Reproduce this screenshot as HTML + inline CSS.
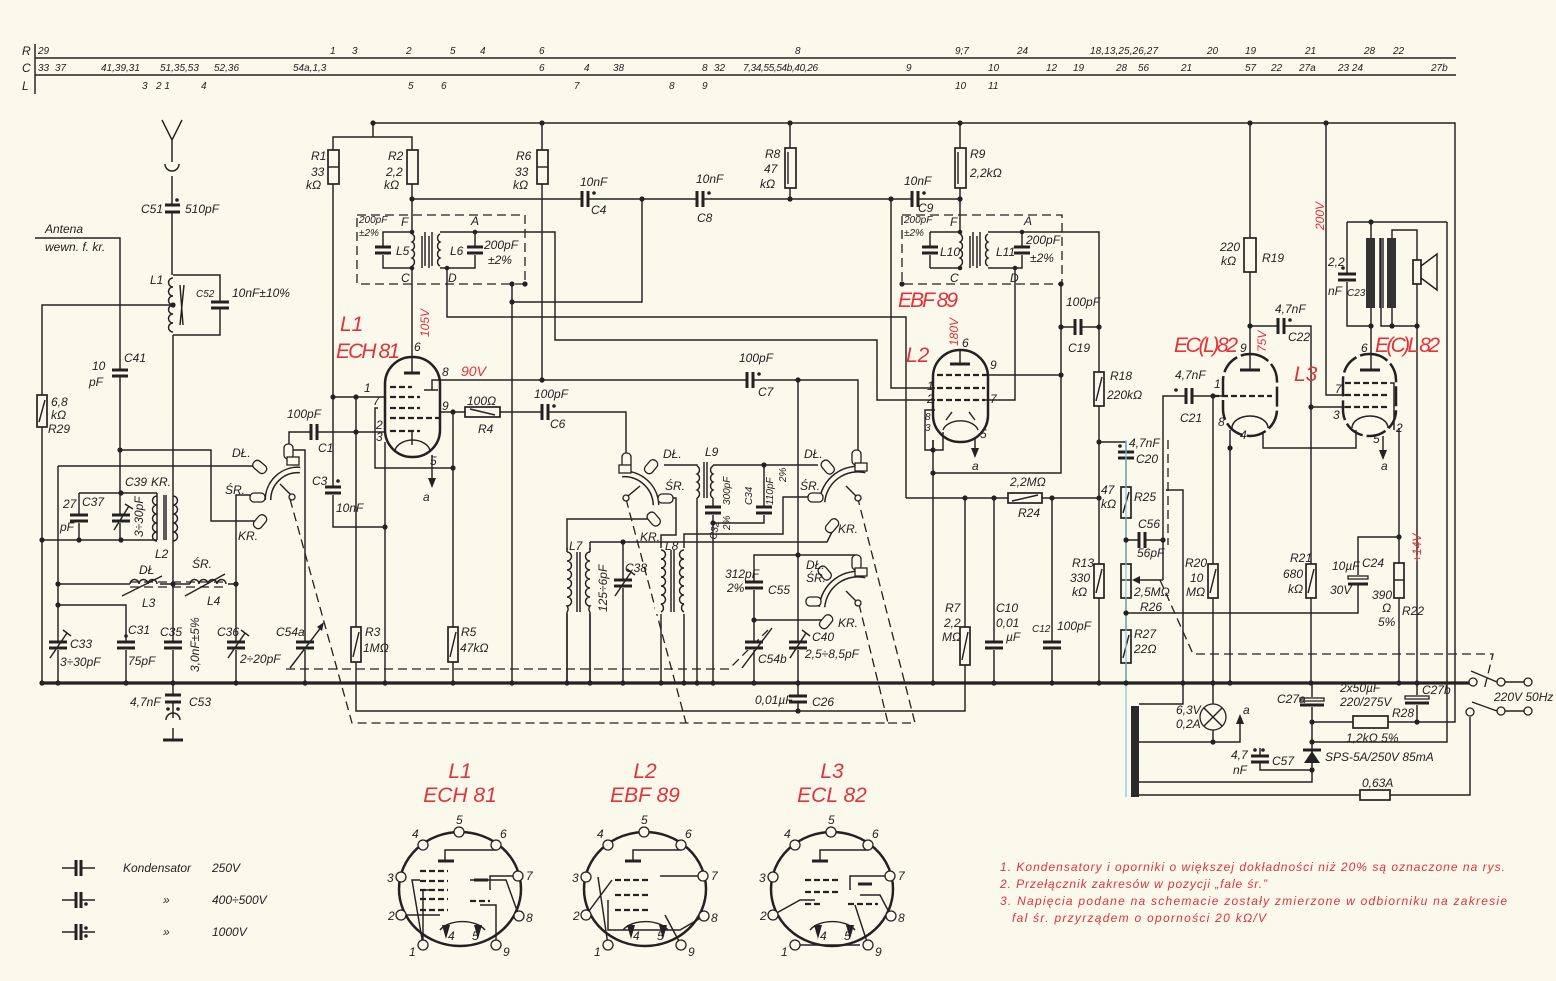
<!DOCTYPE html>
<html><head><meta charset="utf-8">
<style>
html,body{margin:0;padding:0;background:#fbf8ec}
svg{display:block}
</style></head><body>
<svg xmlns="http://www.w3.org/2000/svg" width="1556" height="981" viewBox="0 0 1556 981">
<style>
.w{stroke:#222;stroke-width:1.45;fill:none}
.bus{stroke:#222;stroke-width:3.2;fill:none}
.p{stroke:#222;stroke-width:3;fill:none}
.d{stroke:#222;stroke-width:1.3;fill:none;stroke-dasharray:9 5}
.r{fill:#fbf8ec;stroke:#222;stroke-width:1.7}
.e{fill:none;stroke:#222;stroke-width:2.5}
.g{stroke:#222;stroke-width:2.2;stroke-dasharray:6 3;fill:none}
.bg{fill:#fbf8ec}
.k{fill:#222}
.pin{fill:#fbf8ec;stroke:#222;stroke-width:1.3}
.sw{fill:none;stroke:#222;stroke-width:7}
.swi{fill:none;stroke:#fbf8ec;stroke-width:4}
text{font-family:"Liberation Sans Narrow","Liberation Sans",sans-serif;font-style:italic;font-size:12px;fill:#222}
.t{font-size:10px}
.red{fill:#e3323b;font-size:21px}
.rs{fill:#e3323b;font-size:14px}
.rn{fill:#e3323b;font-size:12px}
</style>
<rect width="1556" height="981" fill="#fbf8ec"/>

<!-- HEADER -->
<text x="22" y="55" font-size="14">R</text>
<text x="22" y="72" font-size="14">C</text>
<text x="22" y="90" font-size="14">L</text>
<path class="w" d="M35,44 V94 M35,58 H1456 M35,75 H1456"/>
<g class="t">
<text x="38" y="54" class="t">29</text><text x="330" y="54" class="t">1</text><text x="352" y="54" class="t">3</text><text x="406" y="54" class="t">2</text><text x="450" y="54" class="t">5</text><text x="480" y="54" class="t">4</text><text x="539" y="54" class="t">6</text><text x="795" y="54" class="t">8</text><text x="955" y="54" class="t">9;7</text><text x="1017" y="54" class="t">24</text><text x="1090" y="54" class="t" textLength="68">18,13,25,26,27</text><text x="1207" y="54" class="t">20</text><text x="1245" y="54" class="t">19</text><text x="1305" y="54" class="t">21</text><text x="1364" y="54" class="t">28</text><text x="1393" y="54" class="t">22</text>
<text x="38" y="71" class="t">33</text><text x="55" y="71" class="t">37</text><text x="101" y="71" class="t">41,39,31</text><text x="160" y="71" class="t">51,35,53</text><text x="214" y="71" class="t">52,36</text><text x="293" y="71" class="t">54a,1,3</text><text x="539" y="71" class="t">6</text><text x="584" y="71" class="t">4</text><text x="613" y="71" class="t">38</text><text x="702" y="71" class="t">8</text><text x="714" y="71" class="t">32</text><text x="743" y="71" class="t" textLength="75">7,34,55,54b,40,26</text><text x="906" y="71" class="t">9</text><text x="988" y="71" class="t">10</text><text x="1046" y="71" class="t">12</text><text x="1073" y="71" class="t">19</text><text x="1116" y="71" class="t">28</text><text x="1138" y="71" class="t">56</text><text x="1181" y="71" class="t">21</text><text x="1245" y="71" class="t">57</text><text x="1271" y="71" class="t">22</text><text x="1299" y="71" class="t">27a</text><text x="1338" y="71" class="t">23 24</text><text x="1431" y="71" class="t">27b</text>
<text x="142" y="89" class="t">3</text><text x="156" y="89" class="t">2 1</text><text x="201" y="89" class="t">4</text><text x="408" y="89" class="t">5</text><text x="441" y="89" class="t">6</text><text x="574" y="89" class="t">7</text><text x="669" y="89" class="t">8</text><text x="702" y="89" class="t">9</text><text x="955" y="89" class="t">10</text><text x="988" y="89" class="t">11</text>
</g>

<!-- BUS -->
<path class="bus" d="M42,683 H1470"/>

<!-- WIRES -->
<path class="w" d="
M162,120 L172,140 L182,120 M172,140 V162
M172,176 V275
M173,275 H220 V335 H173 M173,335 V683
M173,305 H42 V683
M35,238 H120 V540
M121,450 H211 V521 H256
M79,493 H157 M79,493 V540 M42,540 H157
M157,493 V540
M58,466 H256 M58,466 V683 M58,605 H126 V683
M58,584 H130 M160,584 H190 M228,584 H236 V495 H250 M236,584 V683
M173,683 V718 M173,728 V740
M292,450 H305 V683
M289,450 V432 H385
M373,137 V123 H1455 V722 H1388
M333,150 V137 H412 V150
M333,184 V527 H385
M333,397 H385
M356,397 V711 H965 V498
M385,442 V683
M378,408 H375 V468 H453
M412,184 V232 M412,268 V357
M412,199 H960
M542,123 V380
M790,123 V199
M960,123 V232
M412,232 H383 V268 H412
M440,232 H475 V268 H440
M475,232 H555 V340 H877 V400 H935
M447,268 V317 H906 V498
M512,284 V683 M512,302 H642 V199
M440,380 H858 V458
M440,412 H626 V458
M453,412 V683
M798,380 V711
M664,465 H697 V683
M713,465 H818 M713,465 V683
M713,523 H764 V465
M654,519 H567 V683
M590,542 V683 M590,542 H827 L833,530
M623,542 V683
M668,498 H676 V535 H661 V683
M684,683 V534 H783 V497 H812
M798,555 H754 V683 M754,620 H822
M856,565 V555 H798
M906,498 H1099
M994,498 V683 M1052,498 V683
M933,440 V683 M933,473 H1061 V283
M988,375 H1061
M985,400 H1015 V268
M891,199 V388 H935
M930,232 H960 M930,268 H960 M930,232 V268
M988,232 H1022 V268 H988
M1022,232 H1099 V683
M1061,327 H1099
M1099,442 H1126 V683
M1126,540 H1163
M1163,580 V396 H1223
M1166,490 H1183 V704 H1139
M1126,613 H1358 V537 H1399
M1213,396 V704 M1213,730 V742 H1139 M1213,742 H1240 V722
M1230,430 V683
M1263,432 V448 H1356 V430
M1250,123 V356
M1250,326 H1311 V683
M1311,407 H1345
M1326,123 V395 H1345
M1371,222 V238 M1371,308 V356
M1347,222 H1447 M1347,222 V326 H1371
M1381,238 V326 H1417 M1392,308 V326
M1392,238 V230 H1417 V260
M1417,284 V722
M1447,222 V742 H1312
M1399,428 V683
M1312,683 V782 H1139
M1312,722 H1353 M1388,722 H1417
M1260,748 V770 H1312
M1139,795 H1360 M1390,795 H1470 V717
M1505,682 H1524 M1505,711 H1524
"/>
<!-- dashed -->
<path class="d" d="M357,215 H525 V284 H357 Z"/>
<path class="d" d="M902,215 H1062 V284 H902 Z"/>
<path class="d" d="M290,499 L352,723 H888 L858,600 M626,499 L686,723 M888,723 H915 L858,499"/>
<path class="d" d="M286,669 H729 L768,630"/>
<path class="d" d="M1160,580 L1193,654 H1493 L1484,690"/>
<path class="d" d="M1168,440 V545"/>
<path class="d" d="M130,582 H226 M130,587 H226"/>

<!-- ANTENNA + socket -->
<path class="w" d="M165,164 A7,7 0 0 0 179,164" stroke-width="2"/>
<path class="w" d="M166,720 A7,7 0 0 1 180,720" stroke-width="2"/>
<path class="p" d="M163,740 H183"/>

<!-- COILS -->
<path class="w" stroke-width="1.8" d="M173,278 a4.5,4.5 0 0 0 0,9 a4.5,4.5 0 0 0 0,9 a4.5,4.5 0 0 0 0,9 a4.5,4.5 0 0 0 0,9 a4.5,4.5 0 0 0 0,9 a4.5,4.5 0 0 0 0,9"/>
<path class="w" d="M180,285 L183,325 M184,285 L180,325"/>
<path class="w" stroke-width="1.8" d="M157,496 a4.5,4.5 0 0 0 0,9 a4.5,4.5 0 0 0 0,9 a4.5,4.5 0 0 0 0,9 a4.5,4.5 0 0 0 0,9 a4.5,4.5 0 0 0 0,9"/>
<path class="w" stroke-width="1.8" d="M173,496 a4.5,4.5 0 0 1 0,9 a4.5,4.5 0 0 1 0,9 a4.5,4.5 0 0 1 0,9 a4.5,4.5 0 0 1 0,9 a4.5,4.5 0 0 1 0,9"/>
<path class="w" d="M164,495 V540 M166,495 V540"/>
<path class="w" stroke-width="1.8" d="M130,584 a4.5,4.5 0 0 1 9,0 a4.5,4.5 0 0 1 9,0 a4.5,4.5 0 0 1 9,0 M190,584 a4.5,4.5 0 0 1 9,0 a4.5,4.5 0 0 1 9,0 a4.5,4.5 0 0 1 9,0 a4.5,4.5 0 0 1 9,0"/>
<path class="w" d="M122,596 L162,576 M185,596 L225,574"/>
<path class="w" stroke-width="1.8" d="M412,234 a4.5,4.5 0 0 1 0,8 a4.5,4.5 0 0 1 0,8 a4.5,4.5 0 0 1 0,8 a4.5,4.5 0 0 1 0,8"/>
<path class="w" stroke-width="1.8" d="M440,234 a4.5,4.5 0 0 0 0,8 a4.5,4.5 0 0 0 0,8 a4.5,4.5 0 0 0 0,8 a4.5,4.5 0 0 0 0,8"/>
<path class="w" d="M422,236 V268 M425,232 V266 M429,236 V268 M432,232 V266"/>
<path class="w" stroke-width="1.8" d="M960,234 a4.5,4.5 0 0 1 0,8 a4.5,4.5 0 0 1 0,8 a4.5,4.5 0 0 1 0,8 a4.5,4.5 0 0 1 0,8"/>
<path class="w" stroke-width="1.8" d="M988,234 a4.5,4.5 0 0 0 0,8 a4.5,4.5 0 0 0 0,8 a4.5,4.5 0 0 0 0,8 a4.5,4.5 0 0 0 0,8"/>
<path class="w" d="M970,236 V268 M973,232 V266 M977,236 V268 M980,232 V266"/>
<rect class="bg" x="690" y="466" width="30" height="32"/>
<path class="w" stroke-width="1.8" d="M697,466 a4.5,4.5 0 0 1 0,8 a4.5,4.5 0 0 1 0,8 a4.5,4.5 0 0 1 0,8 a4.5,4.5 0 0 1 0,8 M713,466 a4.5,4.5 0 0 0 0,8 a4.5,4.5 0 0 0 0,8 a4.5,4.5 0 0 0 0,8 a4.5,4.5 0 0 0 0,8"/>
<path class="w" d="M704,462 V498 M707,462 V498"/>
<rect class="bg" x="560" y="550" width="36" height="64"/>
<path class="w" stroke-width="1.8" d="M567,552 a4.5,4.5 0 0 1 0,9 a4.5,4.5 0 0 1 0,9 a4.5,4.5 0 0 1 0,9 a4.5,4.5 0 0 1 0,9 a4.5,4.5 0 0 1 0,9 a4.5,4.5 0 0 1 0,9 a4.5,4.5 0 0 1 0,6 M590,552 a4.5,4.5 0 0 0 0,9 a4.5,4.5 0 0 0 0,9 a4.5,4.5 0 0 0 0,9 a4.5,4.5 0 0 0 0,9 a4.5,4.5 0 0 0 0,9 a4.5,4.5 0 0 0 0,9 a4.5,4.5 0 0 0 0,6"/>
<path class="w" d="M567,548 V552 M567,612 V683 M590,548 V552 M590,612 V683 M577,552 V612 M580,552 V612"/>
<rect class="bg" x="655" y="548" width="36" height="66"/>
<path class="w" stroke-width="1.8" d="M661,550 a4.5,4.5 0 0 1 0,9 a4.5,4.5 0 0 1 0,9 a4.5,4.5 0 0 1 0,9 a4.5,4.5 0 0 1 0,9 a4.5,4.5 0 0 1 0,9 a4.5,4.5 0 0 1 0,9 a4.5,4.5 0 0 1 0,8 M684,550 a4.5,4.5 0 0 0 0,9 a4.5,4.5 0 0 0 0,9 a4.5,4.5 0 0 0 0,9 a4.5,4.5 0 0 0 0,9 a4.5,4.5 0 0 0 0,9 a4.5,4.5 0 0 0 0,9 a4.5,4.5 0 0 0 0,8"/>
<path class="w" d="M671,550 V612 M674,550 V612"/>

<!-- CAPACITORS on vertical wires -->
<g>
<rect class="bg" x="164" y="205" width="18" height="7"/><path class="p" d="M165,205 h15 M165,212 h15"/><circle class="k" cx="177" cy="200" r="1.8"/>
<rect class="bg" x="211" y="301" width="18" height="8"/><path class="p" d="M211,302 h18 M211,308 h18"/>
<rect class="bg" x="111" y="369" width="18" height="8"/><path class="p" d="M112,370 h16 M112,376 h16"/>
<rect class="bg" x="70" y="515" width="18" height="8"/><path class="p" d="M70,515 h18 M70,521 h18"/>
<rect class="bg" x="112" y="515" width="18" height="8"/><path class="p" d="M112,515 h18 M112,521 h18"/><path class="w" d="M114,530 L129,506 M125,504 L133,509"/>
<rect class="bg" x="49" y="642" width="18" height="8"/><path class="p" d="M49,642 h18 M49,648 h18"/><path class="w" d="M50,658 L67,633 M63,630 L71,636"/>
<rect class="bg" x="117" y="642" width="18" height="8"/><path class="p" d="M117,642 h18 M117,648 h18"/><circle class="k" cx="126" cy="636" r="1.8"/>
<rect class="bg" x="164" y="642" width="18" height="8"/><path class="p" d="M164,642 h18 M164,648 h18"/>
<rect class="bg" x="227" y="642" width="18" height="8"/><path class="p" d="M227,642 h18 M227,648 h18"/><path class="w" d="M228,658 L245,633 M241,630 L249,636"/>
<rect class="bg" x="296" y="642" width="18" height="8"/><path class="p" d="M296,642 h18 M296,648 h18"/><path class="w" d="M290,668 L322,626"/><path class="k" d="M324,622 L317,627 L322,631 Z"/>
<rect class="bg" x="164" y="695" width="18" height="7"/><path class="p" d="M165,695 h16 M165,702 h16"/><circle class="k" cx="168" cy="709" r="1.8"/><circle class="k" cx="178" cy="709" r="1.8"/>
<rect class="bg" x="324" y="487" width="18" height="8"/><path class="p" d="M325,487 h16 M325,493 h16"/><circle class="k" cx="338" cy="481" r="1.8"/>
<rect class="bg" x="1338" y="274" width="18" height="8"/><path class="p" d="M1338,274 h18 M1338,280 h18"/><circle class="k" cx="1343" cy="268" r="1.8"/>
<rect class="bg" x="374" y="247" width="18" height="8"/><path class="p" d="M375,247 h16 M375,253 h16"/>
<rect class="bg" x="466" y="247" width="18" height="8"/><path class="p" d="M467,247 h16 M467,253 h16"/>
<rect class="bg" x="921" y="247" width="18" height="8"/><path class="p" d="M922,247 h16 M922,253 h16"/>
<rect class="bg" x="1013" y="247" width="18" height="8"/><path class="p" d="M1014,247 h16 M1014,253 h16"/>
<rect class="bg" x="1117" y="452" width="18" height="8"/><path class="p" d="M1118,452 h16 M1118,458 h16"/><circle class="k" cx="1120" cy="446" r="1.8"/>
<rect class="bg" x="704" y="507" width="18" height="8"/><path class="p" d="M705,507 h16 M705,513 h16"/>
<rect class="bg" x="755" y="507" width="18" height="8"/><path class="p" d="M756,507 h16 M756,513 h16"/>
<rect class="bg" x="614" y="580" width="18" height="8"/><path class="p" d="M614,580 h18 M614,586 h18"/><path class="w" d="M615,596 L631,572 M627,569 L635,575"/>
<rect class="bg" x="745" y="582" width="18" height="8"/><path class="p" d="M745,582 h18 M745,588 h18"/>
<rect class="bg" x="745" y="642" width="18" height="8"/><path class="p" d="M745,642 h18 M745,648 h18"/><path class="w" d="M742,668 L772,628"/>
<rect class="bg" x="789" y="642" width="18" height="8"/><path class="p" d="M789,642 h18 M789,648 h18"/><path class="w" d="M790,658 L806,633 M802,630 L810,636"/>
<rect class="bg" x="789" y="695" width="18" height="8"/><path class="p" d="M789,696 h18 M789,702 h18"/>
<rect class="bg" x="985" y="642" width="18" height="8"/><path class="p" d="M985,642 h18 M985,648 h18"/>
<rect class="bg" x="1043" y="642" width="18" height="8"/><path class="p" d="M1043,642 h18 M1043,648 h18"/>
<rect class="bg" x="1251" y="755" width="18" height="8"/><path class="p" d="M1251,756 h18 M1251,762 h18"/><circle class="k" cx="1255" cy="750" r="1.8"/><circle class="k" cx="1263" cy="750" r="1.8"/>
</g>
<!-- CAPACITORS on horizontal wires -->
<g>
<rect class="bg" x="582" y="190" width="7" height="18"/><path class="p" d="M582,191 v16 M588,191 v16"/><circle class="k" cx="594" cy="193" r="1.8"/>
<rect class="bg" x="697" y="190" width="7" height="18"/><path class="p" d="M697,191 v16" stroke="#2c3fa0"/><path class="p" d="M703,191 v16"/><circle class="k" cx="709" cy="193" r="1.8"/>
<rect class="bg" x="912" y="190" width="7" height="18"/><path class="p" d="M912,191 v16 M918,191 v16"/><circle class="k" cx="924" cy="193" r="1.8"/>
<rect class="bg" x="311" y="423" width="7" height="18"/><path class="p" d="M311,424 v16 M317,424 v16"/>
<rect class="bg" x="542" y="403" width="7" height="18"/><path class="p" d="M542,404 v16 M548,404 v16"/><circle class="k" cx="554" cy="406" r="1.8"/>
<rect class="bg" x="747" y="371" width="7" height="18"/><path class="p" d="M747,372 v16 M753,372 v16"/><circle class="k" cx="759" cy="374" r="1.8"/>
<rect class="bg" x="1075" y="318" width="7" height="18"/><path class="p" d="M1075,319 v16 M1081,319 v16"/>
<rect class="bg" x="1139" y="531" width="7" height="18"/><path class="p" d="M1139,532 v16 M1145,532 v16"/>
<rect class="bg" x="1186" y="387" width="7" height="18"/><path class="p" d="M1186,388 v16 M1192,388 v16"/><circle class="k" cx="1176" cy="390" r="1.8"/>
<rect class="bg" x="1278" y="317" width="7" height="18"/><path class="p" d="M1278,318 v16 M1284,318 v16"/><circle class="k" cx="1290" cy="320" r="1.8"/>
</g>
<!-- electrolytics -->
<rect class="bg" x="1346" y="575" width="24" height="10"/><rect x="1348" y="576" width="20" height="3" fill="none" stroke="#222" stroke-width="1.3"/><path class="p" d="M1348,584 h20"/>
<rect class="bg" x="1300" y="697" width="24" height="10"/><rect x="1300" y="698" width="24" height="3" fill="none" stroke="#222" stroke-width="1.3"/><path class="p" d="M1300,705 h24"/>
<rect class="bg" x="1405" y="695" width="24" height="10"/><rect x="1405" y="696" width="24" height="3" fill="none" stroke="#222" stroke-width="1.3"/><path class="p" d="M1405,703 h24"/>

<!-- RESISTORS -->
<g>
<rect class="r" x="328" y="150" width="11" height="34"/><path class="w" d="M328,167 h11"/>
<rect class="r" x="407" y="150" width="11" height="34"/>
<rect class="r" x="537" y="150" width="11" height="34"/><path class="w" d="M537,167 h11"/>
<rect class="r" x="785" y="148" width="11" height="40"/><path class="w" d="M788,152 v32"/>
<rect class="r" x="955" y="148" width="11" height="40"/><path class="w" d="M958,152 v32"/>
<rect class="r" x="37" y="395" width="10" height="32"/><path class="w" d="M39,422 L45,400"/>
<rect class="r" x="351" y="627" width="10" height="35"/><path class="w" d="M353,657 L359,632"/>
<rect class="r" x="448" y="627" width="10" height="35"/><path class="w" d="M450,657 L456,632"/>
<rect class="r" x="960" y="627" width="10" height="38"/><path class="w" d="M962,660 L968,632"/>
<rect class="r" x="1094" y="372" width="10" height="34"/><path class="w" d="M1096,401 L1102,377"/>
<rect class="r" x="1094" y="564" width="10" height="34"/><path class="w" d="M1096,593 L1102,569"/>
<rect class="r" x="1121" y="487" width="10" height="31"/><path class="w" d="M1123,513 L1129,492"/>
<rect class="r" x="1121" y="564" width="10" height="34"/><path class="w" d="M1121,580 h10"/>
<rect class="r" x="1121" y="630" width="10" height="33"/><path class="w" d="M1123,658 L1129,635"/>
<rect class="r" x="1208" y="564" width="10" height="34"/><path class="w" d="M1210,593 L1216,569"/>
<rect class="r" x="1306" y="564" width="10" height="34"/><path class="w" d="M1308,593 L1314,569"/>
<rect class="r" x="1394" y="563" width="10" height="35"/><path class="w" d="M1394,580 h10"/>
<rect class="r" x="1244" y="238" width="12" height="34"/>
<rect class="r" x="465" y="407" width="35" height="10"/><path class="w" d="M470,409 L495,415"/>
<rect class="r" x="1008" y="493" width="34" height="10"/><path class="w" d="M1012,501 L1038,495"/>
<rect class="r" x="1353" y="716" width="35" height="12"/>
<rect class="r" x="1360" y="790" width="30" height="10"/>
</g>
<!-- slider R26 -->
<path class="k" d="M1132,580 L1140,576 L1140,584 Z"/>
<path class="w" d="M1140,580 H1163"/>

<!-- TUBES -->
<rect x="385" y="357" width="55" height="100" rx="27" class="e"/>
<path class="p" d="M404,373 h16"/>
<path class="w" d="M412,357 V373 M440,380 H432 V390 M424,390 H438" stroke-width="1.6"/>
<path class="g" d="M390,387 H412 M390,397 H420 M390,408 H420 M390,418 H440 M390,431 H420"/>
<path class="w" stroke-width="2" d="M395,450 A18,13 0 0 1 430,450"/>
<path class="w" d="M412,431 V445"/>
<path class="w" d="M432,455 V480"/><path class="k" d="M428,478 L436,478 L432,488 Z"/>
<rect x="933" y="350" width="55" height="92" rx="27" class="e"/>
<path class="p" d="M950,364 h20"/>
<path class="w" d="M960,350 V364"/>
<path class="g" d="M937,375 H988 M937,388 H985 M937,400 H985"/>
<path class="w" stroke-width="2" d="M943,430 A18,12 0 0 1 978,430 M946,420 L952,412 M975,420 L969,412"/>
<path class="w" d="M935,410 H925 V450 H943 V432 M933,450 V440"/>
<path class="w" d="M975,438 V450"/><path class="k" d="M971,448 L979,448 L975,458 Z"/>
<rect x="1223" y="354" width="54" height="82" rx="27" class="e" stroke-dasharray="20 4"/>
<path class="p" d="M1240,370 h20"/><path class="w" d="M1250,356 V370"/>
<path class="g" d="M1213,396 H1272"/>
<path class="w" stroke-width="2" d="M1232,428 A18,12 0 0 1 1268,428"/>
<rect x="1343" y="354" width="53" height="82" rx="26" class="e" stroke-dasharray="20 4"/>
<path class="p" d="M1360,370 h20"/><path class="w" d="M1371,356 V370"/>
<path class="g" d="M1345,383 H1390 M1345,395 H1390 M1345,407 H1390"/>
<path class="w" d="M1390,383 H1394 V430"/>
<path class="w" stroke-width="2" d="M1352,428 A18,12 0 0 1 1388,428"/>
<path class="w" d="M1383,436 V452"/><path class="k" d="M1379,450 L1387,450 L1383,460 Z"/>

<!-- OUTPUT TRANSFORMER + SPEAKER -->
<rect x="1366" y="238" width="9" height="70" fill="#333"/>
<rect x="1387" y="238" width="9" height="70" fill="#333"/>
<path class="w" d="M1380,238 V308 M1383,238 V308" stroke-width="1.5"/>
<rect class="r" x="1413" y="260" width="8" height="24"/>
<path class="w" stroke-width="1.8" d="M1421,266 L1437,254 V290 L1421,278"/>

<!-- SWITCHES -->
<g>
<path class="sw" d="M268,500 A30,30 0 0 1 300,470"/><path class="swi" d="M268,500 A30,30 0 0 1 300,470"/>
<rect x="284" y="444" width="9" height="15" rx="4" class="pin"/><rect x="287" y="457" width="12" height="8" class="pin"/>
<rect x="255" y="460" width="9" height="15" rx="4" class="pin" transform="rotate(-50 259 467)"/>
<rect x="250" y="493" width="15" height="9" rx="4" class="pin"/>
<rect x="256" y="514" width="9" height="15" rx="4" class="pin" transform="rotate(40 260 521)"/>
<path class="w" stroke-width="2" d="M280,484 L291,495"/><circle cx="292" cy="497" r="3" class="pin"/>

<path class="sw" d="M622,474 A32,32 0 0 1 656,505"/><path class="swi" d="M622,474 A32,32 0 0 1 656,505"/>
<rect x="622" y="453" width="9" height="15" rx="4" class="pin"/><rect x="619" y="465" width="12" height="8" class="pin"/>
<rect x="647" y="459" width="9" height="15" rx="4" class="pin" transform="rotate(40 651 466)"/>
<rect x="658" y="494" width="15" height="9" rx="4" class="pin"/>
<rect x="649" y="512" width="9" height="15" rx="4" class="pin" transform="rotate(-40 653 519)"/>
<path class="w" stroke-width="2" d="M640,486 L628,496"/><circle cx="626" cy="498" r="3" class="pin"/>

<path class="sw" d="M822,502 A36,36 0 0 1 866,470"/><path class="swi" d="M822,502 A36,36 0 0 1 866,470"/>
<rect x="852" y="450" width="9" height="15" rx="4" class="pin"/><rect x="855" y="463" width="12" height="8" class="pin"/>
<rect x="823" y="460" width="9" height="15" rx="4" class="pin" transform="rotate(-40 827 467)"/>
<rect x="808" y="493" width="15" height="9" rx="4" class="pin"/>
<rect x="828" y="518" width="9" height="15" rx="4" class="pin" transform="rotate(40 832 525)"/>
<path class="w" stroke-width="2" d="M846,486 L856,496"/><circle cx="858" cy="498" r="3" class="pin"/>

<path class="sw" d="M822,607 A36,36 0 0 1 866,575"/><path class="swi" d="M822,607 A36,36 0 0 1 866,575"/>
<rect x="852" y="555" width="9" height="15" rx="4" class="pin"/><rect x="855" y="568" width="12" height="8" class="pin"/>
<rect x="820" y="566" width="9" height="15" rx="4" class="pin" transform="rotate(-40 824 573)"/>
<rect x="806" y="597" width="15" height="9" rx="4" class="pin"/>
<rect x="822" y="614" width="9" height="15" rx="4" class="pin" transform="rotate(40 826 621)"/>
<path class="w" stroke-width="2" d="M846,591 L856,601"/><circle cx="858" cy="603" r="3" class="pin"/>
</g>

<!-- POWER SECTION -->
<rect x="1131" y="706" width="8" height="91" fill="#2a2a2a"/>
<path stroke="#7fc6e0" stroke-width="1.2" d="M1126,440 V797"/>
<circle cx="1213" cy="717" r="13" class="pin" stroke-width="1.8"/>
<path class="w" stroke-width="1.5" d="M1204,708 L1222,726 M1222,708 L1204,726"/>
<path class="k" d="M1236,724 L1244,724 L1240,714 Z"/>
<path class="k" d="M1304,763 L1320,763 L1312,751 Z"/><path class="p" d="M1303,750 h18"/>
<circle cx="1473" cy="682" r="4" class="pin"/>
<circle cx="1470" cy="712" r="4" class="pin"/>
<circle cx="1501" cy="682" r="4" class="pin"/>
<circle cx="1528" cy="682" r="4" class="pin"/>
<circle cx="1501" cy="711" r="4" class="pin"/>
<circle cx="1528" cy="711" r="4" class="pin"/>
<path class="w" stroke-width="1.8" d="M1471,671 L1497,682 M1472,702 L1497,711"/>

<!-- JUNCTIONS -->
<g class="k">
<circle cx="373" cy="123" r="2.6"/><circle cx="542" cy="123" r="2.6"/><circle cx="790" cy="123" r="2.6"/><circle cx="960" cy="123" r="2.6"/><circle cx="1250" cy="123" r="2.6"/><circle cx="1326" cy="123" r="2.6"/>
<circle cx="412" cy="199" r="2.6"/><circle cx="642" cy="199" r="2.6"/><circle cx="790" cy="199" r="2.6"/><circle cx="891" cy="199" r="2.6"/><circle cx="960" cy="199" r="2.6"/>
<circle cx="412" cy="232" r="2.3"/><circle cx="412" cy="268" r="2.3"/><circle cx="475" cy="232" r="2.3"/><circle cx="447" cy="268" r="2.3"/>
<circle cx="960" cy="232" r="2.3"/><circle cx="960" cy="268" r="2.3"/><circle cx="1022" cy="232" r="2.3"/><circle cx="1015" cy="268" r="2.3"/>
<circle cx="512" cy="284" r="2.6"/><circle cx="525" cy="284" r="2.6"/><circle cx="512" cy="302" r="2.6"/><circle cx="902" cy="284" r="2.6"/><circle cx="1061" cy="284" r="2.6"/>
<circle cx="333" cy="397" r="2.6"/><circle cx="356" cy="397" r="2.6"/><circle cx="356" cy="432" r="2.6"/><circle cx="385" cy="527" r="2.6"/>
<circle cx="453" cy="412" r="2.6"/><circle cx="453" cy="468" r="2.6"/><circle cx="542" cy="380" r="2.6"/><circle cx="798" cy="380" r="2.6"/>
<circle cx="120" cy="450" r="2.6"/><circle cx="121" cy="493" r="2.6"/><circle cx="42" cy="540" r="2.6"/><circle cx="79" cy="540" r="2.6"/><circle cx="121" cy="540" r="2.6"/><circle cx="173" cy="305" r="2.6"/>
<circle cx="58" cy="584" r="2.6"/><circle cx="58" cy="605" r="2.6"/><circle cx="173" cy="584" r="2.6"/><circle cx="236" cy="584" r="2.6"/>
<circle cx="764" cy="465" r="2.6"/><circle cx="713" cy="523" r="2.6"/><circle cx="623" cy="542" r="2.6"/><circle cx="798" cy="555" r="2.6"/><circle cx="754" cy="620" r="2.6"/><circle cx="798" cy="711" r="2.6"/>
<circle cx="965" cy="498" r="2.6"/><circle cx="994" cy="498" r="2.6"/><circle cx="1052" cy="498" r="2.6"/><circle cx="1099" cy="498" r="2.6"/>
<circle cx="933" cy="450" r="2.6"/><circle cx="933" cy="473" r="2.6"/><circle cx="1061" cy="327" r="2.6"/><circle cx="1099" cy="327" r="2.6"/><circle cx="1061" cy="375" r="2.6"/>
<circle cx="1099" cy="442" r="2.6"/><circle cx="1126" cy="540" r="2.6"/><circle cx="1163" cy="540" r="2.6"/><circle cx="1126" cy="613" r="2.6"/><circle cx="1399" cy="537" r="2.6"/>
<circle cx="1213" cy="396" r="2.6"/><circle cx="1250" cy="326" r="2.6"/><circle cx="1311" cy="407" r="2.6"/><circle cx="1230" cy="448" r="2.6"/>
<circle cx="1371" cy="222" r="2.6"/><circle cx="1371" cy="326" r="2.6"/><circle cx="1392" cy="326" r="2.6"/><circle cx="1417" cy="326" r="2.6"/>
<circle cx="1312" cy="722" r="2.6"/><circle cx="1417" cy="722" r="2.6"/><circle cx="1312" cy="742" r="2.6"/><circle cx="1312" cy="770" r="2.6"/><circle cx="1213" cy="742" r="2.6"/>
<circle cx="42" cy="683" r="2.6"/><circle cx="58" cy="683" r="2.6"/><circle cx="126" cy="683" r="2.6"/><circle cx="173" cy="683" r="2.6"/><circle cx="236" cy="683" r="2.6"/><circle cx="305" cy="683" r="2.6"/><circle cx="385" cy="683" r="2.6"/><circle cx="453" cy="683" r="2.6"/><circle cx="512" cy="683" r="2.6"/><circle cx="567" cy="683" r="2.6"/><circle cx="590" cy="683" r="2.6"/><circle cx="623" cy="683" r="2.6"/><circle cx="661" cy="683" r="2.6"/><circle cx="684" cy="683" r="2.6"/><circle cx="697" cy="683" r="2.6"/><circle cx="713" cy="683" r="2.6"/><circle cx="754" cy="683" r="2.6"/><circle cx="798" cy="683" r="2.6"/><circle cx="933" cy="683" r="2.6"/><circle cx="994" cy="683" r="2.6"/><circle cx="1052" cy="683" r="2.6"/><circle cx="1099" cy="683" r="2.6"/><circle cx="1126" cy="683" r="2.6"/><circle cx="1183" cy="683" r="2.6"/><circle cx="1213" cy="683" r="2.6"/><circle cx="1230" cy="683" r="2.6"/><circle cx="1311" cy="683" r="2.6"/><circle cx="1399" cy="683" r="2.6"/><circle cx="1417" cy="683" r="2.6"/>
</g>

<!-- LABELS -->
<g>
<text x="141" y="213">C51</text><text x="185" y="213">510pF</text>
<text x="45" y="233" font-size="13">Antena</text><text x="45" y="251" font-size="13">wewn. f. kr.</text>
<text x="150" y="284">L1</text>
<text x="196" y="297" class="t">C52</text><text x="232" y="297" font-size="13">10nF±10%</text>
<text x="92" y="370">10</text><text x="89" y="386">pF</text><text x="124" y="362">C41</text>
<text x="51" y="406">6,8</text><text x="51" y="419">kΩ</text><text x="48" y="433">R29</text>
<text x="125" y="486">C39</text><text x="151" y="486">KR.</text>
<text transform="translate(143,537) rotate(-90)" font-size="13">3÷30pF</text>
<text x="63" y="508">27</text><text x="82" y="506">C37</text><text x="60" y="531">pF</text>
<text x="155" y="558">L2</text>
<text x="139" y="574">DŁ</text><text x="192" y="568">ŚR.</text><text x="142" y="607">L3</text><text x="207" y="605">L4</text>
<text x="70" y="648">C33</text><text x="60" y="666">3÷30pF</text>
<text x="128" y="634">C31</text><text x="128" y="665">75pF</text>
<text x="160" y="636">C35</text><text transform="translate(199,672) rotate(-90)">3,0nF±5%</text>
<text x="217" y="636">C36</text><text x="240" y="663">2÷20pF</text>
<text x="276" y="636">C54a</text>
<text x="130" y="706" font-size="13">4,7nF</text><text x="189" y="706">C53</text>
<text x="232" y="457">DŁ.</text><text x="225" y="494">ŚR.</text><text x="238" y="540">KR.</text>
<text x="287" y="418">100pF</text><text x="318" y="452">C1</text>
<text x="312" y="485">C3</text><text x="336" y="512">10nF</text>
<text x="365" y="636">R3</text><text x="363" y="652">1MΩ</text>
<text x="461" y="636">R5</text><text x="460" y="652">47kΩ</text>
<text x="423" y="501">a</text>
<text x="311" y="160">R1</text><text x="311" y="176">33</text><text x="306" y="189">kΩ</text>
<text x="388" y="160">R2</text><text x="386" y="176">2,2</text><text x="384" y="189">kΩ</text>
<text x="516" y="160">R6</text><text x="515" y="176">33</text><text x="513" y="189">kΩ</text>
<text x="580" y="186">10nF</text><text x="591" y="214">C4</text>
<text x="696" y="183">10nF</text><text x="697" y="222">C8</text>
<text x="765" y="158">R8</text><text x="764" y="173">47</text><text x="760" y="188">kΩ</text>
<text x="970" y="158">R9</text><text x="970" y="177">2,2kΩ</text>
<text x="904" y="185">10nF</text><text x="918" y="212">C9</text>
<text x="359" y="223" class="t">200pF</text><text x="359" y="236" class="t">±2%</text><text x="401" y="226">F</text><text x="401" y="282">C</text><text x="396" y="255">L5</text>
<text x="471" y="225">A</text><text x="448" y="282">D</text><text x="450" y="255">L6</text><text x="484" y="249">200pF</text><text x="488" y="264">±2%</text>
<text x="904" y="223" class="t">200pF</text><text x="904" y="236" class="t">±2%</text><text x="950" y="226">F</text><text x="950" y="282">C</text><text x="940" y="256">L10</text>
<text x="1024" y="225">A</text><text x="1010" y="282">D</text><text x="996" y="256">L11</text><text x="1026" y="244">200pF</text><text x="1030" y="262">±2%</text>
<text x="467" y="405">100Ω</text><text x="478" y="433">R4</text>
<text x="534" y="398">100pF</text><text x="550" y="428">C6</text>
<text x="739" y="362">100pF</text><text x="758" y="396">C7</text>
<text x="663" y="458">DŁ.</text><text x="665" y="490">ŚR.</text><text x="640" y="541">KR.</text>
<text x="705" y="456">L9</text>
<text transform="translate(730,505) rotate(-90)" class="t">300pF</text>
<text transform="translate(716,540) rotate(-80)" class="t">C32</text><text transform="translate(730,530) rotate(-90)" class="t">2%</text>
<text transform="translate(752,505) rotate(-90)" class="t">C34</text><text transform="translate(773,505) rotate(-90)" class="t">110pF</text><text transform="translate(786,482) rotate(-90)" class="t">2%</text>
<text x="804" y="458">DŁ.</text><text x="800" y="490">ŚR.</text><text x="838" y="533">KR.</text>
<text x="806" y="569">DŁ.</text><text x="806" y="582">ŚR.</text><text x="838" y="627">KR.</text>
<text x="569" y="550">L7</text><text transform="translate(607,612) rotate(-90)">125÷6pF</text><text x="625" y="572">C38</text><text x="665" y="550">L8</text>
<text x="725" y="578">312pF</text><text x="727" y="592">2%</text><text x="768" y="594">C55</text>
<text x="758" y="663">C54b</text><text x="812" y="641">C40</text><text x="805" y="658">2,5÷8,5pF</text>
<text x="755" y="704">0,01µF</text><text x="812" y="706">C26</text>
<text x="945" y="612">R7</text><text x="944" y="627">2,2</text><text x="942" y="641">MΩ</text>
<text x="996" y="612">C10</text><text x="996" y="627">0,01</text><text x="1006" y="641">µF</text>
<text x="1032" y="632" class="t">C12</text><text x="1057" y="630">100pF</text>
<text x="1010" y="486">2,2MΩ</text><text x="1018" y="517">R24</text>
<text x="1066" y="306">100pF</text><text x="1068" y="352">C19</text>
<text x="1110" y="380">R18</text><text x="1107" y="399">220kΩ</text>
<text x="1129" y="447">4,7nF</text><text x="1136" y="463">C20</text>
<text x="1101" y="494">47</text><text x="1101" y="508">kΩ</text><text x="1134" y="501">R25</text>
<text x="1138" y="528">C56</text><text x="1137" y="557">56pF</text>
<text x="1072" y="567">R13</text><text x="1070" y="582">330</text><text x="1072" y="596">kΩ</text>
<text x="1134" y="596">2,5MΩ</text><text x="1140" y="611">R26</text>
<text x="1134" y="638">R27</text><text x="1134" y="653">22Ω</text>
<text x="1185" y="567">R20</text><text x="1190" y="582">10</text><text x="1186" y="596">MΩ</text>
<text x="1290" y="562">R21</text><text x="1283" y="578">680</text><text x="1288" y="593">kΩ</text>
<text x="1332" y="570">10µF</text><text x="1362" y="567">C24</text><text x="1330" y="594">30V</text>
<text x="1372" y="599">390</text><text x="1382" y="612">Ω</text><text x="1378" y="626">5%</text><text x="1402" y="615">R22</text>
<text x="1176" y="714">6,3V</text><text x="1176" y="728">0,2A</text><text x="1243" y="714">a</text>
<text x="1277" y="703">C27a</text><text x="1340" y="692">2x50µF</text><text x="1340" y="706">220/275V</text><text x="1392" y="717">R28</text><text x="1422" y="694">C27b</text>
<text x="1346" y="742">1,2kΩ 5%</text>
<text x="1231" y="759">4,7</text><text x="1233" y="774">nF</text><text x="1272" y="765">C57</text>
<text x="1325" y="761" font-size="13">SPS-5A/250V  85mA</text>
<text x="1362" y="787">0,63A</text>
<text x="1494" y="701" font-size="13">220V 50Hz</text>
<text x="1220" y="251">220</text><text x="1221" y="265">kΩ</text><text x="1262" y="262">R19</text>
<text x="1275" y="313">4,7nF</text><text x="1288" y="341">C22</text>
<text x="1175" y="379">4,7nF</text><text x="1180" y="422">C21</text>
<text x="1328" y="266">2,2</text><text x="1328" y="295">nF</text><text x="1347" y="296" class="t">C23</text>
<text x="1240" y="352">9</text><text x="1214" y="388">1</text><text x="1218" y="426">8</text><text x="1240" y="439">4</text>
<text x="1361" y="352">6</text><text x="1335" y="393">7</text><text x="1333" y="419">3</text><text x="1396" y="432">2</text><text x="1373" y="443">5</text><text x="1381" y="470">a</text>
<text x="962" y="347">6</text><text x="990" y="369">9</text><text x="927" y="390">1</text><text x="927" y="403">2</text><text x="990" y="403">7</text><text x="925" y="420" class="t">8</text><text x="925" y="431" class="t">3</text><text x="980" y="438">5</text><text x="972" y="470">a</text>
<text x="414" y="351">6</text><text x="442" y="376">8</text><text x="364" y="392">1</text><text x="373" y="405">7</text><text x="442" y="410">9</text><text x="376" y="429">2</text><text x="376" y="441">3</text><text x="430" y="465">5</text>
</g>

<!-- RED LABELS -->
<text x="340" y="331" class="red">L1</text>
<text x="336" y="358" class="red" textLength="64">ECH 81</text>
<text transform="translate(429,337) rotate(-90)" class="rn">105V</text>
<text x="461" y="376" class="rs">90V</text>
<text x="898" y="307" class="red" textLength="60">EBF 89</text>
<text x="906" y="362" class="red">L2</text>
<text transform="translate(958,346) rotate(-90)" class="rn">180V</text>
<text x="1174" y="352" class="red" textLength="64">EC(L)82</text>
<text transform="translate(1266,352) rotate(-90)" class="rn" font-size="10">75V</text>
<text x="1294" y="381" class="red">L3</text>
<text x="1375" y="352" class="red" textLength="65">E(C)L 82</text>
<text transform="translate(1324,230) rotate(-90)" class="rn">200V</text>
<text transform="translate(1421,562) rotate(-90)" class="rn">+14V</text>

<!-- LEGEND -->
<path class="w" d="M62,868 H75 M82,868 H95 M62,900 H75 M82,900 H95 M62,932 H75 M82,932 H95"/>
<path class="p" d="M76,860 v16 M81,860 v16 M76,892 v16 M81,892 v16 M76,924 v16 M81,924 v16"/>
<circle class="k" cx="86" cy="904" r="1.8"/><circle class="k" cx="86" cy="928" r="1.8"/><circle class="k" cx="86" cy="936" r="1.8"/>
<text x="123" y="872">Kondensator</text><text x="212" y="872">250V</text>
<text x="163" y="904">»</text><text x="212" y="904">400÷500V</text>
<text x="163" y="936">»</text><text x="212" y="936">1000V</text>

<!-- TUBE BASE DIAGRAMS -->
<text x="460" y="778" class="red" text-anchor="middle">L1</text>
<text x="460" y="802" class="red" text-anchor="middle">ECH 81</text>
<text x="645" y="778" class="red" text-anchor="middle">L2</text>
<text x="645" y="802" class="red" text-anchor="middle">EBF 89</text>
<text x="832" y="778" class="red" text-anchor="middle">L3</text>
<text x="832" y="802" class="red" text-anchor="middle">ECL 82</text>

<g>
<ellipse cx="460" cy="889" rx="61" ry="57" class="e"/>
<path class="w" d="M445,861 V850 H496 V845 M518,876 H490 V890 M470,880 H506 L519,916 M496,945 V905 H480 M423,945 L412,880 H420 M401,915 H440 M423,945 V890 H430"/>
<path class="p" d="M438,861 h16 M474,880 h14"/>
<path class="g" d="M420,871 H448 M420,881 H448 M420,890 H448 M420,899 H448 M420,910 H448 M470,901 H490"/>
<path class="w" stroke-width="2" d="M440,930 A25,15 0 0 1 485,930"/>
<path class="k" d="M442,925 L446,939 L450,925 Z M474,925 L478,939 L482,925 Z"/>
<g class="pin"><circle cx="459" cy="832" r="5"/><circle cx="423" cy="845" r="5"/><circle cx="496" cy="845" r="5"/><circle cx="401" cy="877" r="5"/><circle cx="518" cy="876" r="5"/><circle cx="401" cy="915" r="5"/><circle cx="519" cy="916" r="5"/><circle cx="423" cy="945" r="5"/><circle cx="496" cy="945" r="5"/></g>
<text x="456" y="824">5</text><text x="412" y="838">4</text><text x="500" y="838">6</text><text x="387" y="882">3</text><text x="526" y="880">7</text><text x="388" y="920">2</text><text x="526" y="922">8</text><text x="409" y="956">1</text><text x="503" y="956">9</text><text x="448" y="940">4</text><text x="472" y="940">5</text>
</g>
<g>
<ellipse cx="645" cy="889" rx="61" ry="57" class="e"/>
<path class="w" d="M633,861 V850 H681 V845 M703,876 H660 M608,900 V930 H680 L704,916 M608,945 L598,877 M586,915 L612,880 M681,945 L665,915"/>
<path class="p" d="M625,861 h16"/>
<path class="g" d="M615,880 H650 M615,895 H650 M615,910 H650"/>
<path class="w" stroke-width="2" d="M623,930 A25,15 0 0 1 668,930"/>
<path class="k" d="M627,925 L631,939 L635,925 Z M659,925 L663,939 L667,925 Z"/>
<g class="pin"><circle cx="644" cy="832" r="5"/><circle cx="608" cy="845" r="5"/><circle cx="681" cy="845" r="5"/><circle cx="586" cy="877" r="5"/><circle cx="703" cy="876" r="5"/><circle cx="586" cy="915" r="5"/><circle cx="704" cy="916" r="5"/><circle cx="608" cy="945" r="5"/><circle cx="681" cy="945" r="5"/></g>
<text x="641" y="824">5</text><text x="597" y="838">4</text><text x="685" y="838">6</text><text x="572" y="882">3</text><text x="711" y="880">7</text><text x="573" y="920">2</text><text x="711" y="922">8</text><text x="594" y="956">1</text><text x="688" y="956">9</text><text x="633" y="940">4</text><text x="657" y="940">5</text>
</g>
<g>
<ellipse cx="832" cy="889" rx="61" ry="57" class="e"/>
<path class="w" d="M820,861 V850 H868 V845 M890,876 H850 V890 M860,895 H880 L891,916 M868,945 L855,905 M773,915 L800,900 H815 M795,945 H860"/>
<path class="p" d="M812,861 h16 M858,884 h14"/>
<path class="g" d="M805,880 H838 M805,892 H838 M805,904 H820 M848,904 H878"/>
<path class="w" stroke-width="2" d="M810,930 A25,15 0 0 1 855,930"/>
<path class="k" d="M814,925 L818,939 L822,925 Z M846,925 L850,939 L854,925 Z"/>
<g class="pin"><circle cx="831" cy="832" r="5"/><circle cx="795" cy="845" r="5"/><circle cx="868" cy="845" r="5"/><circle cx="773" cy="877" r="5"/><circle cx="890" cy="876" r="5"/><circle cx="773" cy="915" r="5"/><circle cx="891" cy="916" r="5"/><circle cx="795" cy="945" r="5"/><circle cx="868" cy="945" r="5"/></g>
<text x="828" y="824">5</text><text x="784" y="838">4</text><text x="872" y="838">6</text><text x="759" y="882">3</text><text x="898" y="880">7</text><text x="760" y="920">2</text><text x="898" y="922">8</text><text x="781" y="956">1</text><text x="875" y="956">9</text><text x="820" y="940">4</text><text x="844" y="940">5</text>
</g>

<!-- NOTES -->
<g>
<text x="1000" y="871" style="fill:#e3323b" textLength="505">1. Kondensatory i oporniki o większej dokładności niż 20% są oznaczone na rys.</text>
<text x="1000" y="888" style="fill:#e3323b" textLength="267">2. Przełącznik zakresów w pozycji „fale śr.”</text>
<text x="1000" y="905" style="fill:#e3323b" textLength="507">3. Napięcia podane na schemacie zostały  zmierzone w odbiorniku na zakresie</text>
<text x="1012" y="922" style="fill:#e3323b" textLength="254">fal śr. przyrządem o oporności 20 kΩ/V</text>
</g>
</svg>
</body></html>
